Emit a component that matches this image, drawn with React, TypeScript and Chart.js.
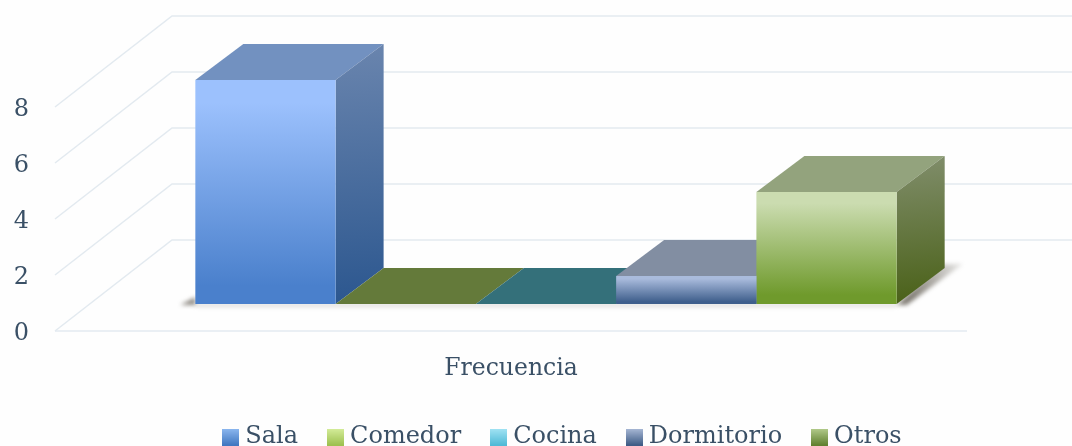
import React, { useEffect, useRef } from "react";
import { Chart, registerables } from "chart.js";

Chart.register(...registerables);

const categories = ["Frecuencia"];
const seriesNames = ["Sala", "Comedor", "Cocina", "Dormitorio", "Otros"];
const seriesValues = [8, 0, 0, 1, 4];
const yTicks = { min: 0, max: 8, step: 2 };

const frontTop = ["#9cc1fd", "#d5ed9b", "#a3e4f4", "#a9bbdc", "#cbdcb0"];
const frontBottom = ["#4a80cc", "#9cc04e", "#4db9d6", "#3f5f8c", "#6f9a2c"];
const topColors = ["#7291c0", "#647a3a", "#34707a", "#828ea2", "#93a37d"];
const sideTop = ["#6a85ae", "#6a85ae", "#34707a", "#7a879c", "#818e6c"];
const sideBottom = ["#2c578f", "#2c578f", "#34707a", "#3c5a84", "#4a6118"];
const legendTop = ["#8db8f0", "#d5ed9b", "#a3e4f4", "#a9b9d6", "#b3cc8c"];
const legendBottom = ["#3f76c0", "#9cc04e", "#4db9d6", "#3c5a84", "#5f7f2e"];

const TEXT = "#3a5066";
const GRID = "#e3eaf0";
const FONT = "'DejaVu Serif', serif";
const W = 1072;
const H = 446;
const FLOOR_DX = 117; const FLOOR_DY = 91;   // wall depth
const BAR_SHIFT_X = 35; const BAR_SHIFT_Y = 27; // bars stand this far behind the front edge
const BAR_DX = 48; const BAR_DY = 36;        // bar depth

function swatch(top: string, bottom: string) {
  const c = document.createElement("canvas");
  c.width = 17; c.height = 17;
  const g = c.getContext("2d")!;
  const lg = g.createLinearGradient(0, 0, 0, 17);
  lg.addColorStop(0, top); lg.addColorStop(1, bottom);
  g.fillStyle = lg; g.fillRect(0, 0, 17, 17);
  return c;
}

function drawDepthFaces(ctx: any, i: number, bar: any) {
  const x1 = bar.x - bar.width / 2; const x2 = bar.x + bar.width / 2;
  const yt = bar.y; const yb = bar.base;
  ctx.fillStyle = topColors[i];
  ctx.beginPath();
  ctx.moveTo(x1, yt); ctx.lineTo(x1 + BAR_DX, yt - BAR_DY);
  ctx.lineTo(x2 + BAR_DX, yt - BAR_DY); ctx.lineTo(x2, yt);
  ctx.closePath(); ctx.fill();
  if (yb - yt > 0.5) {
    const g = ctx.createLinearGradient(x2, yt - BAR_DY, x2 + BAR_DX * 0.3, yb);
    g.addColorStop(0, sideTop[i]); g.addColorStop(1, sideBottom[i]);
    ctx.fillStyle = g;
    ctx.beginPath();
    ctx.moveTo(x2, yt); ctx.lineTo(x2 + BAR_DX, yt - BAR_DY);
    ctx.lineTo(x2 + BAR_DX, yb - BAR_DY); ctx.lineTo(x2, yb);
    ctx.closePath(); ctx.fill();
  }
}

const depthPlugin = {
  id: "depth",
  beforeDraw(chart: any) {
    const { ctx } = chart;
    ctx.save(); ctx.fillStyle = "#fefefe"; ctx.fillRect(0, 0, W, H); ctx.restore();
  },
  afterLayout(chart: any) {
    const l = chart.legend;
    const shift = 565 - (l.left + l.right) / 2;
    l.left += shift; l.right += shift;
    const up = 425 - (l.top + l.options.labels.padding);
    l.top += up; l.bottom += up;
  },
  beforeDatasetsDraw(chart: any) {
    const { ctx, chartArea, scales } = chart;
    const y = scales.y;
    ctx.save();
    ctx.strokeStyle = GRID; ctx.lineWidth = 1.5;
    y.ticks.forEach((t: any) => {
      const py = y.getPixelForValue(t.value);
      ctx.beginPath();
      ctx.moveTo(chartArea.left, py);
      ctx.lineTo(chartArea.left + FLOOR_DX, py - FLOOR_DY);
      ctx.lineTo(W, py - FLOOR_DY);
      ctx.stroke();
    });
    const y0 = y.getPixelForValue(0);
    ctx.beginPath(); ctx.moveTo(chartArea.left, y0); ctx.lineTo(chartArea.right, y0); ctx.stroke();

    // soft shadow on the floor
    const bars = seriesNames.map((_, i) => chart.getDatasetMeta(i).data[0]);
    const xl = Math.min(...bars.map((b: any) => b.x - b.width / 2)) + BAR_SHIFT_X;
    const xr = Math.max(...bars.map((b: any) => b.x + b.width / 2)) + BAR_SHIFT_X;
    const b = y0 - BAR_SHIFT_Y;
    ctx.filter = "blur(2px)";
    ctx.fillStyle = "rgba(95,90,80,0.7)";
    ctx.beginPath(); ctx.moveTo(xl - 15, b + 1); ctx.lineTo(xl, b - 7); ctx.lineTo(xl, b + 1); ctx.closePath(); ctx.fill();
    const sg = ctx.createLinearGradient(xr + 20, b, xr + 66, b - 30);
    sg.addColorStop(0, "rgba(100,95,85,0.8)");
    sg.addColorStop(1, "rgba(100,95,85,0.2)");
    ctx.fillStyle = sg;
    ctx.beginPath(); ctx.moveTo(xr, b + 1); ctx.lineTo(xr + 10, b + 1); ctx.lineTo(xr + 66, b - 40); ctx.lineTo(xr + 44, b - 40); ctx.closePath(); ctx.fill();
    ctx.fillStyle = "rgba(130,125,115,0.35)";
    ctx.fillRect(xl, b, xr - xl, 2.5);
    ctx.filter = "none";

    // depth faces, left to right, behind all fronts
    ctx.translate(BAR_SHIFT_X, -BAR_SHIFT_Y);
    bars.forEach((bar: any, i: number) => drawDepthFaces(ctx, i, bar));
    ctx.restore();
  },
  beforeDatasetDraw(chart: any) {
    chart.ctx.save();
    chart.ctx.translate(BAR_SHIFT_X, -BAR_SHIFT_Y);
  },
  afterDatasetDraw(chart: any) {
    chart.ctx.restore();
  },
};

export default function App() {
  const ref = useRef<HTMLCanvasElement>(null);
  useEffect(() => {
    const chart = new Chart(ref.current!, {
      type: "bar",
      data: {
        labels: categories,
        datasets: seriesNames.map((label, i) => ({
          label,
          data: [seriesValues[i]],
          clip: false as any,
          borderWidth: 0,
          backgroundColor: (c: any) => {
            const y = c.chart.scales?.y;
            if (!y || !c.chart.chartArea) return frontTop[i];
            const g = c.chart.ctx.createLinearGradient(0, y.getPixelForValue(seriesValues[i]), 0, y.getPixelForValue(0));
            g.addColorStop(0, frontTop[i]);
            g.addColorStop(0.1, frontTop[i]);
            g.addColorStop(0.92, frontBottom[i]);
            g.addColorStop(1, frontBottom[i]);
            return g;
          },
        })),
      },
      options: {
        animation: false,
        responsive: false,
        layout: { padding: { top: 107, right: 105, left: 0, bottom: 0 } },
        datasets: { bar: { categoryPercentage: 0.769, barPercentage: 1 } },
        scales: {
          x: {
            grid: { display: false },
            border: { display: false },
            ticks: { color: TEXT, font: { family: FONT, size: 23.5 }, padding: 16, maxRotation: 0 },
            afterFit: (s: any) => { s.height = H - 331 - (s.chart.legend?.height ?? 0); },
          },
          y: {
            min: yTicks.min,
            max: yTicks.max,
            grid: { display: false },
            border: { display: false },
            ticks: { stepSize: yTicks.step, color: TEXT, font: { family: FONT, size: 24 }, padding: 18, labelOffset: 3 },
            afterFit: (s: any) => { s.width = 55; },
          },
        },
        plugins: {
          tooltip: { enabled: false },
          legend: {
            position: "bottom",
            labels: {
              color: TEXT,
              font: { family: FONT, size: 24 },
              usePointStyle: true,
              boxWidth: 5,
              boxHeight: 12,
              padding: 35,
              generateLabels: (ch: any) =>
                Chart.defaults.plugins.legend.labels.generateLabels(ch).map((it: any) => ({
                  ...it,
                  pointStyle: swatch(legendTop[it.datasetIndex], legendBottom[it.datasetIndex]),
                })),
            },
          },
        },
      },
      plugins: [depthPlugin],
    } as any);
    return () => chart.destroy();
  }, []);
  return (
    <div style={{ position: "absolute", left: 0, top: 0, width: W, height: H }}>
      <canvas ref={ref} width={W} height={H} style={{ display: "block", width: W, height: H }} />
    </div>
  );
}
